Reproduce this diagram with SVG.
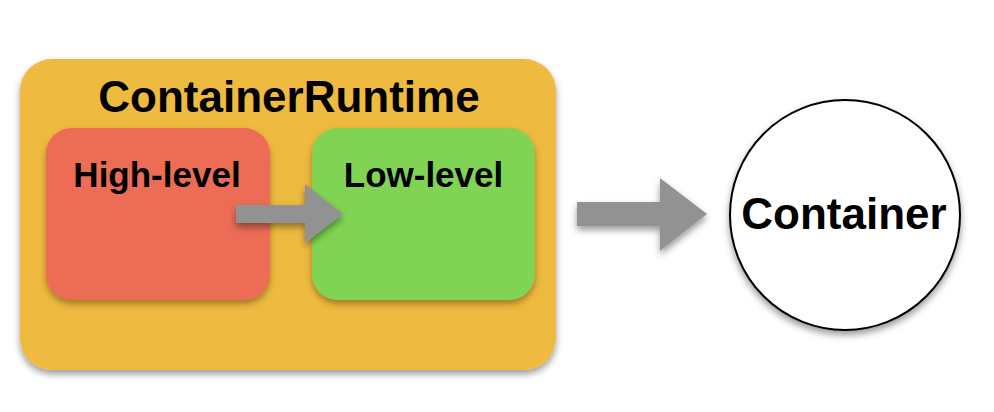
<svg xmlns="http://www.w3.org/2000/svg" width="994" height="412" viewBox="0 0 994 412">
<style>
.t{font-family:"Liberation Sans",Arial,sans-serif;font-weight:bold;fill:#000;text-anchor:middle}
</style>
<defs>
<filter id="sh" x="-20%" y="-20%" width="140%" height="150%">
<feDropShadow dx="0" dy="4" stdDeviation="3.5" flood-color="#000" flood-opacity="0.4"/>
</filter>
<filter id="sh2" x="-20%" y="-20%" width="140%" height="150%">
<feDropShadow dx="0" dy="4" stdDeviation="3" flood-color="#5a3c00" flood-opacity="0.5"/>
</filter>
</defs>
<g id="runtime">
<rect x="20" y="59" width="536" height="311" rx="32" fill="#EEBA40" filter="url(#sh)"/>
<text class="t" x="289" y="112" font-size="44">ContainerRuntime</text>
</g>
<g id="high-level">
<rect x="46" y="128" width="224" height="172" rx="26" fill="#EC6C56" filter="url(#sh2)"/>
<text class="t" x="157" y="187" font-size="35">High-level</text>
</g>
<g id="low-level">
<rect x="312" y="128" width="223" height="172" rx="26" fill="#81D453" filter="url(#sh2)"/>
<text class="t" x="423.5" y="187" font-size="35">Low-level</text>
</g>
<g id="container">
<circle cx="845" cy="215" r="115" fill="#fff" stroke="#000" stroke-width="2" filter="url(#sh)"/>
<text class="t" x="844" y="229" font-size="44">Container</text>
</g>
<g id="connectors" fill="#929292">
<polygon points="236,205 305,205 305,184 343,214 305,243 305,223 236,223" filter="url(#sh)"/>
<polygon points="577,202 660,202 660,178 707,214 660,251 660,226 577,226" filter="url(#sh)"/>
</g>
</svg>
